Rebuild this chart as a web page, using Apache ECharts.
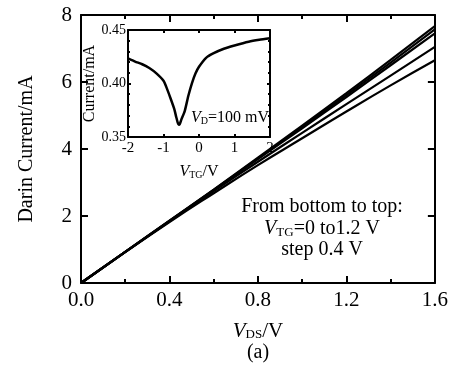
<!DOCTYPE html>
<html><head><meta charset="utf-8">
<script src="https://cdn.jsdelivr.net/npm/echarts@6/dist/echarts.min.js"></script>
<style>html,body{margin:0;padding:0;background:#fff}#c{width:451px;height:365px}</style>
</head><body><div id="c"></div>
<script>
// Main plot: drain current vs V_DS for several V_TG
var vds = [0, 0.2, 0.4, 0.6, 0.8, 1.0, 1.2, 1.4, 1.6];
var curveA = [0, 0.92, 1.82, 2.68, 3.52, 4.32, 5.12, 5.90, 6.65];
var curveB = [0, 0.93, 1.84, 2.74, 3.62, 4.48, 5.34, 6.19, 7.05];
var curveC = [0, 0.93, 1.85, 2.77, 3.70, 4.62, 5.55, 6.50, 7.45];
var curveD = [0, 0.93, 1.85, 2.78, 3.72, 4.66, 5.61, 6.58, 7.57];
var curveE = [0, 0.93, 1.86, 2.79, 3.74, 4.70, 5.67, 6.66, 7.67];
var mainXTicks = ['0.0', '0.4', '0.8', '1.2', '1.6'];
var mainYTicks = ['0', '2', '4', '6', '8'];
// Inset: current vs V_TG at V_D = 100 mV
var vtg = [-2.0, -1.8, -1.6, -1.4, -1.2, -1.0, -0.9, -0.8, -0.7, -0.64, -0.6, -0.57, -0.54, -0.5, -0.4, -0.3, -0.2, -0.1, 0.0, 0.2, 0.4, 0.7, 1.0, 1.4, 1.7, 2.0];
var insetI = [0.4235, 0.4205, 0.4180, 0.4145, 0.4095, 0.4025, 0.3950, 0.3860, 0.3765, 0.3685, 0.3635, 0.3614, 0.3622, 0.3660, 0.3745, 0.3885, 0.4002, 0.4093, 0.4156, 0.4240, 0.4281, 0.4325, 0.4355, 0.4390, 0.4408, 0.4422];

var F = '"Liberation Serif","Times New Roman",serif';
function pairs(xs, ys){ return xs.map(function(x,i){ return [x, ys[i]]; }); }
function richSub(big, small){
  return {
    i:{fontFamily:F, fontSize:big, fontStyle:'italic', color:'#000'},
    s:{fontFamily:F, fontSize:small, color:'#000', padding:[Math.round(big*0.35),0,0,0]},
    n:{fontFamily:F, fontSize:big, color:'#000'}
  };
}
var ax = {onZero:false, lineStyle:{color:'#000', width:2}};
function mainSeries(d){
  return {type:'line', xAxisIndex:0, yAxisIndex:0, data:pairs(vds,d), smooth:true, symbol:'none',
    lineStyle:{color:'#000', width:2.2}, silent:true};
}
var chart = echarts.init(document.getElementById('c'));
chart.setOption({
  animation:false,
  backgroundColor:'#fff',
  grid:[
    {left:81, top:15, width:354, height:268},
    {left:128, top:30, width:142, height:107, show:true, backgroundColor:'#fff', borderWidth:0, z:5}
  ],
  xAxis:[
    {gridIndex:0, type:'value', min:0, max:1.6, interval:0.4, position:'bottom',
     axisLine:ax, splitLine:{show:false},
     axisTick:{inside:true, length:7, lineStyle:{color:'#000', width:2}},
     minorTick:{show:true, splitNumber:2, length:4, lineStyle:{color:'#000', width:2}},
     axisLabel:{fontFamily:F, fontSize:21, color:'#000', margin:7,
       formatter:function(v){ return mainXTicks[Math.round(v/0.4)]; }},
     name:'{i|V}{s|DS}{n|/V}', nameLocation:'middle', nameGap:38,
     nameTextStyle:{rich:richSub(21,13)}},
    {gridIndex:0, type:'value', min:0, max:1.6, interval:0.4, position:'top',
     axisLine:ax, splitLine:{show:false}, axisLabel:{show:false},
     axisTick:{inside:true, length:7, lineStyle:{color:'#000', width:2}},
     minorTick:{show:true, splitNumber:2, length:4, lineStyle:{color:'#000', width:2}}},
    {gridIndex:1, type:'value', min:-2, max:2, interval:1, position:'bottom', z:6,
     axisLine:ax, splitLine:{show:false},
     axisTick:{inside:true, length:3, lineStyle:{color:'#000', width:2}},
     axisLabel:{fontFamily:F, fontSize:15, color:'#000', margin:4},
     name:'{i|V}{s|TG}{n|/V}', nameLocation:'middle', nameGap:27,
     nameTextStyle:{rich:richSub(16,10)}},
    {gridIndex:1, type:'value', min:-2, max:2, interval:1, position:'top', z:6,
     axisLine:ax, splitLine:{show:false}, axisLabel:{show:false},
     axisTick:{inside:true, length:3, lineStyle:{color:'#000', width:2}}}
  ],
  yAxis:[
    {gridIndex:0, type:'value', min:0, max:8, interval:2, position:'left',
     axisLine:ax, splitLine:{show:false},
     axisTick:{inside:true, length:7, lineStyle:{color:'#000', width:2}},
     axisLabel:{fontFamily:F, fontSize:21, color:'#000', margin:9,
       formatter:function(v){ return mainYTicks[Math.round(v/2)]; }},
     name:'Darin Current/mA', nameLocation:'middle', nameGap:44,
     nameTextStyle:{fontFamily:F, fontSize:20, color:'#000'}},
    {gridIndex:0, type:'value', min:0, max:8, interval:2, position:'right',
     axisLine:ax, splitLine:{show:false}, axisLabel:{show:false},
     axisTick:{inside:true, length:7, lineStyle:{color:'#000', width:2}}},
    {gridIndex:1, type:'value', min:0.35, max:0.45, interval:0.05, position:'left', z:6,
     axisLine:ax, splitLine:{show:false},
     axisTick:{inside:true, length:3, lineStyle:{color:'#000', width:2}},
     minorTick:{show:true, splitNumber:5, length:2, lineStyle:{color:'#000', width:2}},
     axisLabel:{fontFamily:F, fontSize:14, color:'#000', margin:2,
       formatter:function(v){ return v.toFixed(2); }},
     name:'Current/mA', nameLocation:'middle', nameGap:23,
     nameTextStyle:{fontFamily:F, fontSize:16, color:'#000'}},
    {gridIndex:1, type:'value', min:0.35, max:0.45, interval:0.05, position:'right', z:6,
     axisLine:ax, splitLine:{show:false}, axisLabel:{show:false},
     axisTick:{inside:true, length:3, lineStyle:{color:'#000', width:2}},
     minorTick:{show:true, splitNumber:5, length:2, lineStyle:{color:'#000', width:2}}}
  ],
  series:[
    mainSeries(curveA), mainSeries(curveB), mainSeries(curveC), mainSeries(curveD), mainSeries(curveE),
    {type:'line', xAxisIndex:2, yAxisIndex:2, data:pairs(vtg, insetI), smooth:0.2, symbol:'none', z:7,
     lineStyle:{color:'#000', width:2.5}, silent:true}
  ],
  graphic:[
    {type:'text', x:322, y:207, z:100, style:{text:'From bottom to top:', fontFamily:F, fontSize:20, fill:'#000', textAlign:'center', textVerticalAlign:'middle'}},
    {type:'text', x:322, y:229, z:100, style:{text:'{i|V}{s|TG}{n|=0 to1.2 V}', rich:richSub(20,13), textAlign:'center', textVerticalAlign:'middle'}},
    {type:'text', x:322, y:250, z:100, style:{text:'step 0.4 V', fontFamily:F, fontSize:20, fill:'#000', textAlign:'center', textVerticalAlign:'middle'}},
    {type:'text', x:230, y:118, z:100, style:{text:'{i|V}{s|D}{n|=100 mV}', rich:richSub(16,10), textAlign:'center', textVerticalAlign:'middle'}},
    {type:'text', x:258, y:353, z:100, style:{text:'(a)', fontFamily:F, fontSize:20, fill:'#000', textAlign:'center', textVerticalAlign:'middle'}}
  ]
});
</script></body></html>
